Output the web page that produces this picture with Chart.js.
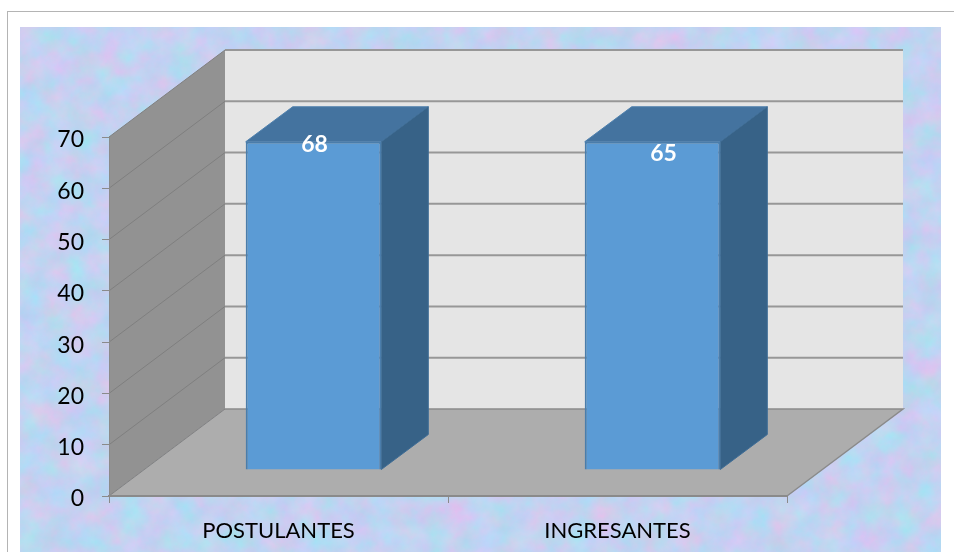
<!DOCTYPE html>
<html>
<head>
<meta charset="utf-8">
<title>Postulantes e ingresantes</title>
<script src="https://cdn.jsdelivr.net/npm/chart.js@4/dist/chart.umd.min.js"></script>
<style>
  html, body { margin: 0; padding: 0; background: #fff; overflow: hidden; }
  #marco { position: absolute; left: 7px; top: 11px; width: 947px; height: 541px; border-left: 1px solid #b4b4b4; border-top: 1px solid #b4b4b4; }
  #textura { position: absolute; left: 20px; top: 27px; width: 921px; height: 525px; }
  #grafico { position: absolute; left: 0; top: 0; }
</style>
</head>
<body>
<div id="marco"></div>
<svg id="textura" xmlns="http://www.w3.org/2000/svg">
  <filter id="papel" x="0" y="0" width="100%" height="100%" color-interpolation-filters="sRGB">
    <feTurbulence type="fractalNoise" baseFrequency="0.04" numOctaves="7" seed="11"/>
    <feColorMatrix type="matrix" values="
      0.26 -0.10 0 0 0.68
      -0.10 0.10 -0.05 0 0.85
      0 0.05 0.06 0 0.89
      0 0 0 0 1"/>
  </filter>
  <rect width="100%" height="100%" filter="url(#papel)"/>
</svg>
<canvas id="grafico" width="954" height="552"></canvas>
<script>
// Datos
const categorias = ['POSTULANTES', 'INGRESANTES'];
const etiquetas = [68, 65];        // lo que dicen los rotulos
const alturas = [64, 64];          // lo que miden las barras dibujadas
const ticksY = [0, 10, 20, 30, 40, 50, 60, 70];

// Profundidad de la caja 3D y de las barras
const fondo = { dx: 116, dy: -87 };
const desplazaBarra = { dx: 35, dy: -26 };
const prof = { dx: 47, dy: -35 };
// Ajuste de cada rotulo respecto al tope de su barra
const ajusteRotulo = [{ x: 1, y: 3 }, { x: 11, y: 12 }];

function poligono(ctx, puntos, relleno, borde, grosor) {
  ctx.beginPath();
  puntos.forEach((p, i) => i ? ctx.lineTo(p[0], p[1]) : ctx.moveTo(p[0], p[1]));
  ctx.closePath();
  ctx.fillStyle = relleno;
  ctx.fill();
  if (borde) {
    ctx.strokeStyle = borde;
    ctx.lineWidth = grosor || 1;
    ctx.stroke();
  }
}

const caja3d = {
  id: 'caja3d',
  beforeDraw(chart) {
    const { ctx, chartArea: a, scales: { y } } = chart;
    const fx = a.left + fondo.dx, fd = a.right + fondo.dx;
    ctx.save();
    // pared del fondo
    poligono(ctx, [[fx, a.top + fondo.dy], [fd, a.top + fondo.dy], [fd, a.bottom + fondo.dy], [fx, a.bottom + fondo.dy]], '#e5e5e5');
    // pared lateral
    poligono(ctx, [[a.left, a.top], [fx, a.top + fondo.dy], [fx, a.bottom + fondo.dy], [a.left, a.bottom]], '#929292');
    // piso
    poligono(ctx, [[a.left, a.bottom], [fx, a.bottom + fondo.dy], [fd, a.bottom + fondo.dy], [a.right, a.bottom]], '#adadad');
    // lineas de la cuadricula
    ticksY.forEach(v => {
      const py = y.getPixelForValue(v);
      if (v > 0) {
        ctx.beginPath();
        ctx.moveTo(fx, py + fondo.dy);
        ctx.lineTo(fd, py + fondo.dy);
        ctx.strokeStyle = '#979797';
        ctx.lineWidth = 2;
        ctx.stroke();
      }
      ctx.beginPath();
      ctx.moveTo(a.left, py);
      ctx.lineTo(fx, py + fondo.dy);
      ctx.strokeStyle = '#7f7f7f';
      ctx.lineWidth = 1;
      ctx.stroke();
    });
    // borde derecho del piso y encuentro piso-fondo
    ctx.strokeStyle = '#8a8a8a';
    ctx.lineWidth = 1.5;
    ctx.beginPath();
    ctx.moveTo(fx, a.bottom + fondo.dy);
    ctx.lineTo(fd, a.bottom + fondo.dy);
    ctx.lineTo(a.right, a.bottom);
    ctx.stroke();
    ctx.restore();
  },
  beforeDatasetsDraw(chart) {
    const { ctx } = chart;
    ctx.save();
    ctx.translate(desplazaBarra.dx, desplazaBarra.dy);
    chart.getDatasetMeta(0).data.forEach(el => {
      const izq = el.x - el.width / 2, der = el.x + el.width / 2;
      // cara superior y cara lateral
      poligono(ctx, [[izq, el.y], [izq + prof.dx, el.y + prof.dy], [der + prof.dx, el.y + prof.dy], [der, el.y]], '#44739f', '#4f81ae');
      poligono(ctx, [[der, el.y], [der + prof.dx, el.y + prof.dy], [der + prof.dx, el.base + prof.dy], [der, el.base]], '#376287', '#3f6d96');
    });
  },
  afterDatasetsDraw(chart) {
    const { ctx } = chart;
    ctx.fillStyle = '#ffffff';
    ctx.font = 'bold 23px Lato';
    ctx.textAlign = 'center';
    ctx.textBaseline = 'middle';
    chart.getDatasetMeta(0).data.forEach((el, i) => {
      ctx.fillText(String(etiquetas[i]), el.x + ajusteRotulo[i].x, el.y + ajusteRotulo[i].y);
    });
    ctx.restore();
  }
};

new Chart(document.getElementById('grafico'), {
  type: 'bar',
  data: {
    labels: categorias,
    datasets: [{
      data: alturas,
      backgroundColor: '#5b9bd5',
      borderColor: '#4a7dab',
      borderWidth: 2,
      barPercentage: 0.4,
      categoryPercentage: 1
    }]
  },
  options: {
    responsive: false,
    animation: false,
    devicePixelRatio: 1,
    layout: { padding: { top: 137, right: 167, left: 0, bottom: 0 } },
    plugins: { legend: { display: false }, tooltip: { enabled: false } },
    scales: {
      x: {
        afterFit: s => { s.height = 56; },
        border: { color: '#8a8a8a', width: 2 },
        grid: { drawOnChartArea: false, color: '#8a8a8a', tickLength: 7 },
        ticks: { color: '#000', padding: 15, font: { family: 'Lato', size: 22 }, maxRotation: 0 }
      },
      y: {
        min: 0,
        max: 70,
        afterFit: s => { s.width = 109; },
        afterBuildTicks: s => { s.ticks = ticksY.map(v => ({ value: v })); },
        border: { color: '#8a8a8a', width: 1 },
        grid: { drawOnChartArea: false, color: '#8a8a8a', tickLength: 7 },
        ticks: { color: '#000', padding: 18, labelOffset: 3, font: { family: 'Lato', size: 23 } }
      }
    }
  },
  plugins: [caja3d]
});
</script>
</body>
</html>
